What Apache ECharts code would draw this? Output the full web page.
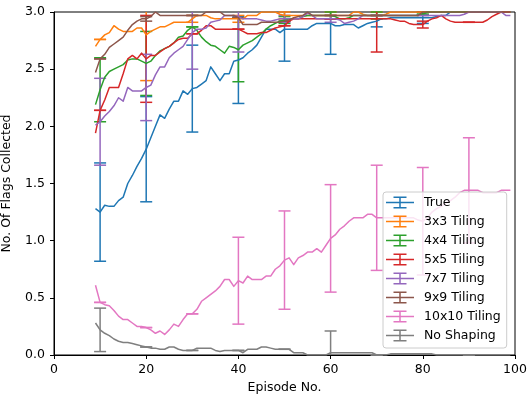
<!DOCTYPE html>
<html>
<head>
<meta charset="utf-8">
<script src="https://cdn.jsdelivr.net/npm/echarts@6/dist/echarts.min.js"></script>
<style>
  html, body { margin: 0; padding: 0; background: #fff; }
  #chart { width: 528px; height: 400px; }
</style>
</head>
<body>
<div id="chart"></div>
<script>
// Episodes covered by the running averages (9 .. 99)
const episodes = [];
for (let e = 9; e <= 99; e++) episodes.push(e);

// Episodes that carry an error bar
const errEpisodes = [10, 20, 30, 40, 50, 60, 70, 80, 90];

const seriesNames = ['True', '3x3 Tiling', '4x4 Tiling', '5x5 Tiling',
  '7x7 Tiling', '9x9 Tiling', '10x10 Tiling', 'No Shaping'];
const seriesColors = ['#1f77b4', '#ff7f0e', '#2ca02c', '#d62728',
  '#9467bd', '#8c564b', '#e377c2', '#7f7f7f'];

const xTicks = [0, 20, 40, 60, 80, 100];
const yTicks = ['0.0', '0.5', '1.0', '1.5', '2.0', '2.5', '3.0'];

// Mean flags collected per episode
const trueVals = [
  1.28,1.25,1.31,1.30,1.30,1.35,1.38,1.50,1.57,1.65,
  1.72,1.80,1.90,2.00,2.10,2.07,2.15,2.22,2.22,2.31,
  2.28,2.33,2.34,2.37,2.40,2.52,2.46,2.40,2.46,2.46,
  2.57,2.58,2.60,2.64,2.67,2.71,2.78,2.85,2.85,2.85,
  2.82,2.85,2.85,2.85,2.85,2.85,2.85,2.88,2.90,2.90,
  2.90,2.90,2.88,2.88,2.89,2.89,2.89,2.86,2.88,2.90,
  2.91,2.92,2.94,2.94,2.95,2.95,2.95,2.95,2.95,2.95,
  2.95,2.95,2.95,2.95,2.96,2.97,2.97,3.00,3.00,3.00,
  3.00,3.00,3.00,3.00,3.00,3.00,3.00,3.00,3.00,3.00,3.00];
const tiling3 = [
  2.70,2.76,2.80,2.82,2.88,2.85,2.83,2.83,2.83,2.86,
  2.86,2.80,2.83,2.85,2.87,2.87,2.89,2.91,2.91,2.91,
  2.91,2.94,2.97,2.97,2.97,2.95,2.94,2.94,2.94,2.94,
  2.94,2.94,2.94,2.97,2.97,2.97,3.00,3.00,3.00,3.00,
  2.98,2.97,2.97,2.97,2.97,2.97,2.97,2.97,2.97,2.97,
  2.97,2.97,2.97,2.97,2.97,2.97,3.00,3.00,2.98,2.97,
  2.97,2.97,2.97,2.98,3.00,3.00,3.00,3.00,3.00,3.00,
  3.00,3.00,3.00,3.00,3.00,3.00,3.00,3.00,3.00,3.00,
  3.00,3.00,3.00,3.00,3.00,3.00,3.00,3.00,3.00,3.00,3.00];
const tiling4 = [
  2.19,2.32,2.43,2.48,2.50,2.52,2.54,2.58,2.59,2.59,
  2.57,2.55,2.57,2.62,2.66,2.68,2.70,2.73,2.78,2.79,
  2.84,2.87,2.84,2.78,2.74,2.71,2.70,2.67,2.64,2.70,
  2.69,2.67,2.71,2.73,2.75,2.78,2.81,2.85,2.88,2.90,
  2.92,2.93,2.94,2.94,2.94,2.96,2.97,2.97,2.97,2.97,
  2.97,2.97,2.96,2.94,2.94,2.95,2.97,2.97,2.97,2.97,
  2.97,2.97,2.97,2.97,2.97,2.97,2.97,2.97,2.97,2.97,
  2.97,2.98,3.00,3.00,3.00,3.00,3.00,3.00,3.00,3.00,
  3.00,3.00,3.00,3.00,3.00,3.00,3.00,3.00,3.00,3.00,3.00];
const tiling5 = [
  1.94,2.14,2.23,2.34,2.34,2.34,2.46,2.59,2.62,2.59,
  2.64,2.59,2.62,2.62,2.65,2.68,2.70,2.73,2.76,2.77,
  2.77,2.81,2.81,2.84,2.88,2.88,2.85,2.85,2.85,2.85,
  2.85,2.85,2.83,2.81,2.81,2.81,2.82,2.82,2.84,2.86,
  2.87,2.88,2.92,2.94,2.94,2.94,2.94,2.94,2.94,2.94,
  2.94,2.94,2.94,2.94,2.94,2.94,2.94,2.94,2.94,2.94,
  2.94,2.94,2.94,2.94,2.94,2.93,2.92,2.92,2.90,2.89,
  2.89,2.89,2.92,2.94,2.95,2.97,2.94,2.92,2.91,2.91,
  2.91,2.91,2.91,2.91,2.91,2.93,2.96,2.98,3.00,3.00,3.00];
const tiling7 = [
  2.01,2.04,2.09,2.13,2.18,2.25,2.22,2.34,2.31,2.31,
  2.31,2.34,2.36,2.45,2.52,2.52,2.60,2.64,2.67,2.70,
  2.76,2.82,2.85,2.85,2.86,2.91,2.92,2.93,2.97,2.97,
  2.97,2.96,2.94,2.94,2.94,2.94,2.93,2.92,2.92,2.93,
  2.94,2.94,2.94,2.94,2.94,2.96,2.99,2.97,2.94,2.94,
  2.94,2.94,2.94,2.93,2.90,2.91,2.92,2.94,2.97,2.97,
  2.97,2.97,2.97,2.97,2.97,2.97,2.97,2.97,2.97,2.97,
  2.97,2.97,2.97,2.97,2.97,2.97,2.97,2.97,2.97,2.97,
  2.98,3.00,3.00,3.00,3.00,3.00,3.00,3.00,3.00,2.97,2.97];
const tiling9 = [
  2.47,2.59,2.63,2.69,2.72,2.75,2.78,2.84,2.89,2.92,
  2.94,2.94,2.96,3.00,2.97,2.97,2.97,2.97,2.97,2.97,
  2.97,2.97,2.97,2.97,3.00,3.00,3.00,3.00,2.97,2.97,
  2.97,2.95,2.89,2.89,2.89,2.89,2.91,2.91,2.91,2.91,
  2.91,2.92,2.93,2.95,2.96,2.97,3.00,2.97,2.97,2.97,
  2.97,2.97,2.97,2.97,2.97,2.97,2.97,2.97,2.97,2.97,
  2.97,2.97,2.97,2.97,2.97,2.97,2.97,2.97,2.97,2.97,
  2.97,3.00,3.00,3.00,3.00,3.00,3.00,3.00,3.00,3.00,
  3.00,3.00,3.00,3.00,3.00,3.00,3.00,3.00,3.00,3.00,3.00];
const tiling10 = [
  0.61,0.46,0.44,0.43,0.39,0.34,0.31,0.31,0.28,0.25,
  0.25,0.24,0.22,0.19,0.21,0.18,0.22,0.27,0.25,0.31,
  0.36,0.36,0.40,0.47,0.50,0.53,0.56,0.60,0.66,0.66,
  0.60,0.65,0.63,0.69,0.66,0.66,0.66,0.69,0.69,0.75,
  0.78,0.83,0.85,0.79,0.85,0.87,0.90,0.90,0.93,0.90,
  0.96,1.02,1.05,1.10,1.13,1.17,1.20,1.20,1.20,1.23,
  1.23,1.20,1.20,1.20,1.20,1.20,1.20,1.20,1.20,1.20,
  1.18,1.17,1.20,1.25,1.28,1.30,1.33,1.35,1.38,1.42,
  1.44,1.44,1.44,1.44,1.42,1.42,1.42,1.42,1.44,1.44,1.44];
const noShaping = [
  0.28,0.22,0.19,0.17,0.14,0.12,0.11,0.11,0.10,0.09,
  0.08,0.07,0.06,0.06,0.05,0.05,0.07,0.07,0.05,0.04,
  0.04,0.04,0.06,0.06,0.06,0.06,0.04,0.03,0.04,0.04,
  0.04,0.04,0.02,0.05,0.05,0.05,0.07,0.07,0.06,0.05,
  0.05,0.05,0.05,0.02,0.02,0.02,0.00,0.00,0.00,0.00,
  0.00,0.02,0.02,0.02,0.02,0.02,0.02,0.02,0.02,0.02,
  0.02,0.00,0.00,0.00,0.01,0.01,0.01,0.01,0.01,0.01,
  0.01,0.01,0.01,0.01,0.00,0.00,0.00,0.00,0.00,0.00,
  0.00,0.00,0.00,0.00,0.00,0.00,0.00,0.00,0.00,0.00,0.00];

// Standard deviation at episodes 10, 20, ..., 90
const errTrue = [0.43, 0.46, 0.38, 0.38, 0.28, 0.27, 0.05, 0.05, 0.00];
const err3 = [0.00, 0.40, 0.03, 0.03, 0.03, 0.03, 0.03, 0.00, 0.00];
const err4 = [0.28, 0.28, 0.00, 0.28, 0.03, 0.03, 0.03, 0.00, 0.00];
const err5 = [0.00, 0.38, 0.00, 0.00, 0.00, 0.00, 0.29, 0.03, 0.00];
const err7 = [0.38, 0.29, 0.32, 0.31, 0.03, 0.03, 0.00, 0.00, 0.00];
const err9 = [0.00, 0.02, 0.00, 0.00, 0.00, 0.00, 0.00, 0.00, 0.00];
const err10 = [0.00, 0.00, 0.00, 0.38, 0.43, 0.47, 0.46, 0.47, 0.46];
const errNo = [0.19, 0.00, 0.00, 0.00, 0.00, 0.19, 0.00, 0.00, 0.00];

const allMeans = [trueVals, tiling3, tiling4, tiling5, tiling7, tiling9, tiling10, noShaping];
const allErrs = [errTrue, err3, err4, err5, err7, err9, err10, errNo];

const Y_MIN = 0, Y_MAX = 3;
const FONT = 'DejaVu Sans';
const FONT_SIZE = 12.5;

// Legend handle: horizontal line crossed by a capped vertical bar
const ERR_ICON = 'path://M0,5.25h28v1.5H0z M13.25,0h1.5v12h-1.5z M7.5,0h13v1.5h-13z M7.5,10.5h13v1.5h-13z';

function makeErrRenderer(color) {
  return function (params, api) {
    const x = api.value(0), m = api.value(1), e = api.value(2);
    const lo = m - e, hi = m + e;
    const top = Math.min(hi, Y_MAX), bot = Math.max(lo, Y_MIN);
    const pTop = api.coord([x, top]);
    const pBot = api.coord([x, bot]);
    const half = 6;
    const style = { stroke: color, lineWidth: 1.5, fill: null };
    const children = [{
      type: 'line',
      shape: { x1: pTop[0], y1: pTop[1], x2: pBot[0], y2: pBot[1] },
      style: style
    }];
    if (hi <= Y_MAX) {
      const p = api.coord([x, hi]);
      children.push({ type: 'line', shape: { x1: p[0] - half, y1: p[1], x2: p[0] + half, y2: p[1] }, style: style });
    }
    if (lo >= Y_MIN) {
      const p = api.coord([x, lo]);
      children.push({ type: 'line', shape: { x1: p[0] - half, y1: p[1], x2: p[0] + half, y2: p[1] }, style: style });
    }
    return { type: 'group', children: children };
  };
}

const series = [];
seriesNames.forEach(function (name, k) {
  const means = allMeans[k];
  const color = seriesColors[k];
  series.push({
    name: name,
    type: 'line',
    data: episodes.map(function (ep, i) { return [ep, means[i]]; }),
    showSymbol: false,
    symbol: 'none',
    color: color,
    lineStyle: { color: color, width: 1.5, join: 'round' },
    animation: false,
    clip: true,
    z: 2
  });
  series.push({
    name: name + ' error',
    type: 'custom',
    data: errEpisodes.map(function (ep, j) {
      return [ep, means[episodes.indexOf(ep)], allErrs[k][j]];
    }),
    renderItem: makeErrRenderer(color),
    color: color,
    animation: false,
    z: 2
  });
});

const chart = echarts.init(document.getElementById('chart'), null, { renderer: 'canvas' });
chart.setOption({
  backgroundColor: '#ffffff',
  animation: false,
  textStyle: { fontFamily: FONT },
  grid: {
    left: 54, right: 13, top: 12, bottom: 45,
    containLabel: false,
    outerBoundsMode: 'none',
    show: true, borderColor: '#000', borderWidth: 1, backgroundColor: 'transparent'
  },
  xAxis: {
    type: 'value',
    min: xTicks[0], max: xTicks[xTicks.length - 1], interval: 20,
    name: 'Episode No.',
    nameLocation: 'middle',
    nameGap: 25,
    nameTextStyle: { fontFamily: FONT, fontSize: FONT_SIZE, color: '#000' },
    axisLine: { show: true, lineStyle: { color: '#000', width: 1 } },
    axisTick: { show: true, length: 4, lineStyle: { color: '#000', width: 1 } },
    axisLabel: { margin: 8, fontFamily: FONT, fontSize: FONT_SIZE, color: '#000' },
    splitLine: { show: false }
  },
  yAxis: {
    type: 'value',
    min: Y_MIN, max: Y_MAX, interval: 0.5,
    name: 'No. Of Flags Collected',
    nameLocation: 'middle',
    nameGap: 41,
    nameRotate: 90,
    nameTextStyle: { fontFamily: FONT, fontSize: FONT_SIZE, color: '#000' },
    axisLine: { show: true, lineStyle: { color: '#000', width: 1 } },
    axisTick: { show: true, length: 4, lineStyle: { color: '#000', width: 1 } },
    axisLabel: {
      margin: 9, fontFamily: FONT, fontSize: FONT_SIZE, color: '#000',
      formatter: function (v) { return yTicks[Math.round(v / 0.5)]; }
    },
    splitLine: { show: false }
  },
  legend: {
    orient: 'vertical',
    left: 383,
    top: 192,
    data: seriesNames.map(function (n) { return { name: n, icon: ERR_ICON }; }),
    itemWidth: 28,
    itemHeight: 12,
    itemGap: 6,
    itemStyle: { borderWidth: 0 },
    backgroundColor: 'rgba(255,255,255,0.8)',
    borderColor: '#cccccc',
    borderWidth: 1,
    borderRadius: 3,
    padding: [4, 6, 6, 3],
    selectedMode: false,
    textStyle: { fontFamily: FONT, fontSize: FONT_SIZE, lineHeight: 12, color: '#000', padding: [0, 0, 0, 5] }
  },
  series: series
});
</script>
</body>
</html>
